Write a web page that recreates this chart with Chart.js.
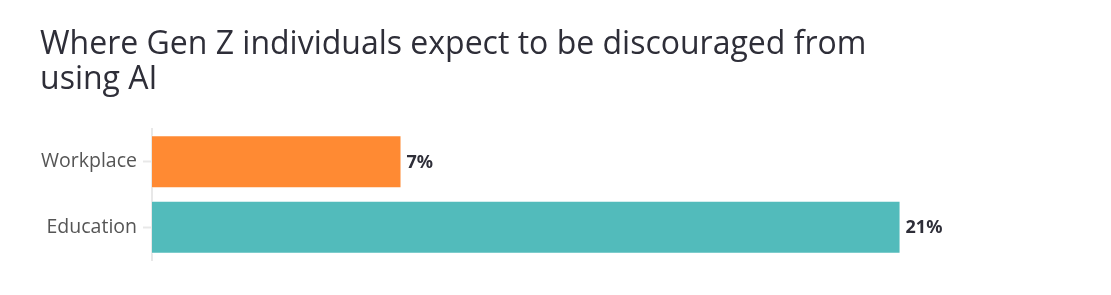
<!DOCTYPE html>
<html>
<head>
<meta charset="utf-8">
<script src="https://cdn.jsdelivr.net/npm/chart.js@4"></script>
<style>
  html, body { margin: 0; padding: 0; background: #fff; }
  #wrap { width: 1111px; height: 295px; }
</style>
</head>
<body>
<div id="wrap"><canvas id="myChart"></canvas></div>
<script>
const categories = ['Workplace', 'Education'];
const shares = [7, 21];
const barColors = ['#FF8A33', '#52BBBB'];
const titleLines = ['Where Gen Z individuals expect to be discouraged from', 'using AI'];

// writes "7%" etc. just past the end of each bar
const valueLabels = {
  id: 'valueLabels',
  afterDatasetsDraw(chart) {
    const ctx = chart.ctx;
    const meta = chart.getDatasetMeta(0);
    ctx.save();
    ctx.font = 'bold 18px "Noto Sans"';
    ctx.fillStyle = '#2e2e38';
    ctx.textAlign = 'left';
    ctx.textBaseline = 'middle';
    meta.data.forEach((bar, i) => {
      ctx.fillText(shares[i] + '%', bar.x + 5, bar.y + 1);
    });
    ctx.restore();
  }
};

new Chart(document.getElementById('myChart'), {
  type: 'bar',
  data: {
    labels: categories,
    datasets: [{
      data: shares,
      backgroundColor: barColors,
      borderColor: 'rgba(255,255,255,0.6)',
      borderWidth: 1,
      categoryPercentage: 1,
      barPercentage: 0.81
    }]
  },
  options: {
    indexAxis: 'y',
    responsive: true,
    maintainAspectRatio: false,
    animation: false,
    layout: { padding: { left: 40, right: 34, top: 0, bottom: 35 } },
    plugins: {
      legend: { display: false },
      tooltip: { enabled: false },
      title: {
        display: true,
        text: titleLines,
        align: 'start',
        color: '#2e2e38',
        font: { family: '"Open Sans"', size: 32, weight: 'normal', lineHeight: 1.08 },
        padding: { top: 28, bottom: 32 }
      }
    },
    scales: {
      x: {
        display: false,
        min: 0,
        max: 25.95
      },
      y: {
        afterFit(axis) { axis.width = 112; },
        border: { display: true, color: '#e8e8e8', width: 2 },
        grid: {
          offset: false,
          drawOnChartArea: false,
          tickColor: '#e8e8e8',
          tickLength: 9,
          tickWidth: 2
        },
        ticks: {
          color: '#555555',
          padding: 6,
          font: { family: '"Open Sans"', size: 19.5 }
        }
      }
    }
  },
  plugins: [valueLabels]
});
</script>
</body>
</html>
